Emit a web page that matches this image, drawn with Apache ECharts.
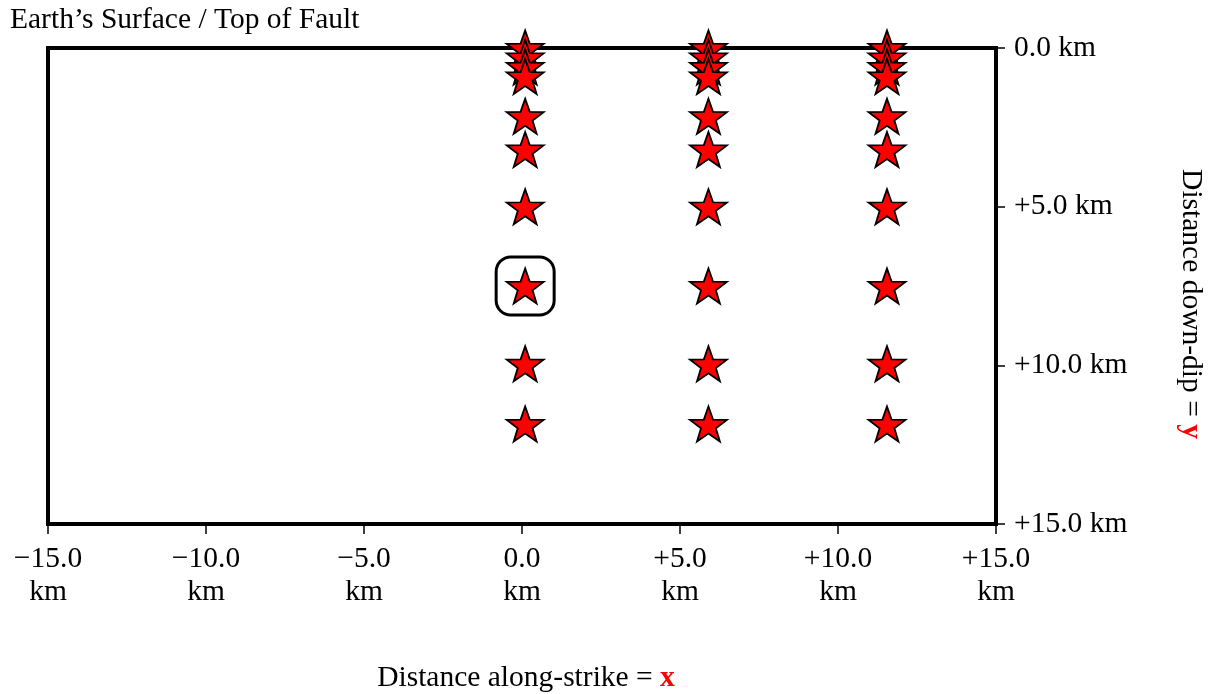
<!DOCTYPE html>
<html>
<head>
<meta charset="utf-8">
<script src="https://cdn.jsdelivr.net/npm/echarts@6/dist/echarts.min.js"></script>
<style>
  html, body { margin: 0; padding: 0; background: #fff; }
  #chart { width: 1219px; height: 694px; }
</style>
</head>
<body>
<div id="chart"></div>
<script>
// station positions along strike (km) and down dip (km)
const stationX = [0.1, 5.9, 11.55];
const stationY = [0.0, 0.3, 0.6, 0.9, 2.15, 3.2, 5.0, 7.5, 9.95, 11.85];
// highlighted station (boxed)
const boxedStation = [0.1, 7.5];

const xTicks = [-15, -10, -5, 0, 5, 10, 15];
const xTickLabels = ['\u221215.0\nkm', '\u221210.0\nkm', '\u22125.0\nkm', '0.0\nkm', '+5.0\nkm', '+10.0\nkm', '+15.0\nkm'];
const yTicks = [0, 5, 10, 15];
const yTickLabels = ['0.0 km', '+5.0 km', '+10.0 km', '+15.0 km'];

// star symbol path
function starPath() {
  const pts = [];
  for (let k = 0; k < 10; k++) {
    const a = (-90 + 36 * k) * Math.PI / 180;
    const r = k % 2 === 0 ? 100 : 40;
    pts.push((100 + r * Math.cos(a)).toFixed(2) + ',' + (100 + r * Math.sin(a)).toFixed(2));
  }
  return 'path://M' + pts.join('L') + 'Z';
}

const stations = [];
stationX.forEach(x => stationY.forEach(y => stations.push([x, y])));

const font = 'Liberation Serif';
const fs = 29.5;
const chart = echarts.init(document.getElementById('chart'));
chart.setOption({
  animation: false,
  title: {
    text: 'Earth\u2019s Surface / Top of Fault',
    left: 5, top: 0,
    textStyle: { fontFamily: font, fontSize: fs, fontWeight: 'normal', color: '#000' }
  },
  grid: {
    left: 48, right: 223, top: 48, bottom: 170,
    outerBoundsMode: 'none', containLabel: false,
    show: true, borderColor: '#000', borderWidth: 4
  },
  xAxis: {
    type: 'value', min: -15, max: 15, interval: 5, position: 'bottom',
    splitLine: { show: false },
    axisLine: { show: false, onZero: false },
    axisTick: { show: true, length: 10, lineStyle: { color: '#000', width: 1.5 } },
    axisLabel: {
      margin: 19, fontFamily: font, fontSize: fs, color: '#000', lineHeight: 33,
      formatter: v => xTickLabels[xTicks.indexOf(v)]
    },
    name: '{n|Distance along-strike = }{r|x}',
    nameLocation: 'middle', nameGap: 139,
    nameTextStyle: {
      padding: [0, 0, 0, 8],
      rich: {
        n: { fontFamily: font, fontSize: fs, color: '#000' },
        r: { fontFamily: font, fontSize: fs, color: '#ff0000', fontWeight: 'bold' }
      }
    }
  },
  yAxis: {
    type: 'value', min: 0, max: 15, interval: 5, inverse: true, position: 'right',
    splitLine: { show: false },
    axisLine: { show: false, onZero: false },
    axisTick: { show: true, length: 9, lineStyle: { color: '#000', width: 1.5 } },
    axisLabel: {
      margin: 18, fontFamily: font, fontSize: fs, color: '#000',
      formatter: v => yTickLabels[yTicks.indexOf(v)]
    },
    name: '{n|Distance down-dip = }{r|y}',
    nameLocation: 'middle', nameGap: 180, nameRotate: -90,
    nameTextStyle: {
      padding: [0, 0, 0, 36],
      rich: {
        n: { fontFamily: font, fontSize: fs, color: '#000' },
        r: { fontFamily: font, fontSize: fs, color: '#ff0000', fontWeight: 'bold' }
      }
    }
  },
  series: [
    {
      type: 'scatter',
      data: stations,
      symbol: starPath(),
      symbolSize: [37, 35],
      clip: false,
      itemStyle: { color: '#ff0000', borderColor: '#000', borderWidth: 1.8, opacity: 1 },
      z: 3
    },
    {
      type: 'scatter',
      data: [boxedStation],
      symbol: 'roundRect',
      symbolSize: 58,
      clip: false,
      itemStyle: { color: 'rgba(0,0,0,0)', borderColor: '#000', borderWidth: 3, opacity: 1 },
      z: 2
    }
  ]
});
</script>
</body>
</html>
